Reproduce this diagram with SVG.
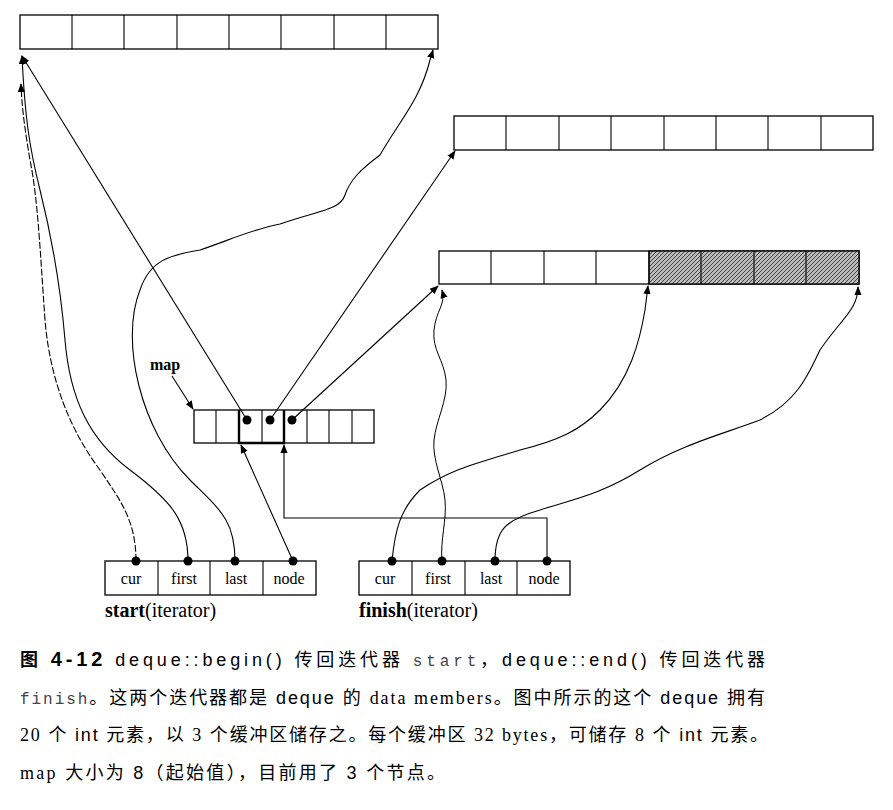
<svg xmlns="http://www.w3.org/2000/svg" width="893" height="810" viewBox="0 0 893 810">
<style>
.c{fill:#fff;stroke:#000;stroke-width:1.3}
.t{stroke:#000;stroke-width:2.4;fill:none}
.ln{fill:none;stroke:#000;stroke-width:1.1}
.lb{font-family:"Liberation Serif",serif;font-size:16px}
.cap{font-family:"Liberation Sans","Noto Sans CJK SC",sans-serif;font-size:18px}
.mono{font-family:"Liberation Mono",monospace}
</style>
<defs>
<marker id="a" viewBox="0 0 10 10" refX="9" refY="5" markerWidth="9" markerHeight="9" orient="auto" markerUnits="userSpaceOnUse"><path d="M0,1 L10,5 L0,9 Z"/></marker>
<pattern id="h" width="4" height="4" patternUnits="userSpaceOnUse"><rect width="4" height="4" fill="#bbb"/><path d="M0,4 L4,0" stroke="#333" stroke-width="0.9"/></pattern>
</defs>
<g id="buffer1">
<rect class="c" x="20" y="15" width="418" height="34"/>
<path class="ln" d="M72,15V49M124,15V49M177,15V49M229,15V49M281,15V49M334,15V49M386,15V49"/>
</g>
<g id="buffer2">
<rect class="c" x="454" y="116" width="419" height="34"/>
<path class="ln" d="M506,116V150M559,116V150M611,116V150M664,116V150M716,116V150M768,116V150M821,116V150"/>
</g>
<g id="buffer3">
<rect class="c" x="439" y="251" width="420" height="33"/>
<rect x="649" y="251" width="210" height="33" fill="url(#h)" stroke="#000" stroke-width="1.3"/>
<path class="ln" d="M491,251V284M544,251V284M596,251V284M649,251V284M701,251V284M754,251V284M806,251V284"/>
</g>
<g id="map">
<text x="150" y="370" class="lb" font-weight="bold" font-size="18">map</text>
<rect class="c" x="194" y="410" width="180" height="33"/>
<path class="ln" d="M216,410V443M239,410V443M262,410V443M284,410V443M307,410V443M329,410V443M352,410V443"/>
<path class="t" d="M239,410V443H284V410" stroke-width="2"/>
<circle cx="247" cy="420" r="4.5"/><circle cx="270" cy="420" r="4.5"/><circle cx="292" cy="420" r="4.5"/>
</g>
<g id="start">
<rect class="c" x="105" y="561" width="211" height="34"/>
<path class="ln" d="M158,561V595M210,561V595M263,561V595"/>
<g class="lb" text-anchor="middle"><text x="131" y="584">cur</text><text x="184" y="584">first</text><text x="236" y="584">last</text><text x="289" y="584">node</text></g>
<circle cx="136" cy="561" r="4.5"/><circle cx="188" cy="561" r="4.5"/><circle cx="235" cy="561" r="4.5"/><circle cx="293" cy="561" r="4.5"/>
<text x="105" y="617" class="lb" style="font-size:20px"><tspan font-weight="bold">start</tspan>(iterator)</text>
</g>
<g id="finish">
<rect class="c" x="359" y="561" width="211" height="34"/>
<path class="ln" d="M412,561V595M465,561V595M517,561V595"/>
<g class="lb" text-anchor="middle"><text x="385" y="584">cur</text><text x="438" y="584">first</text><text x="491" y="584">last</text><text x="544" y="584">node</text></g>
<circle cx="392" cy="561" r="4.5"/><circle cx="442" cy="561" r="4.5"/><circle cx="495" cy="561" r="4.5"/><circle cx="547" cy="561" r="4.5"/>
<text x="359" y="617" class="lb" style="font-size:20px"><tspan font-weight="bold">finish</tspan>(iterator)</text>
</g>
<g id="connectors" class="ln" marker-end="url(#a)">
<path d="M172,376 L193,409"/>
<path d="M136,561 C136,520 120,500 100,470 C70,430 50,380 45,320 C40,250 38,200 30,160 C25,130 22,110 21,84" stroke-dasharray="7,2"/>
<path d="M188,561 C188,520 170,500 130,470 C90,440 70,400 65,340 C60,280 50,230 40,190 C30,150 25,120 22,56"/>
<path d="M247,420 L22,56"/>
<path d="M235,561 C235,520 220,510 190,480 C140,430 120,340 140,290 C150,260 170,255 200,250 C230,240 250,230 280,224 C320,210 340,210 345,195 C350,180 360,170 380,155 C400,120 420,100 430,60 L433,50"/>
<path d="M270,420 L455,151"/>
<path d="M292,420 L438,286"/>
<path d="M293,561 L241,445"/>
<path d="M547,561 V518 H284 V445"/>
<path d="M392,561 C395,530 400,510 420,490 C450,470 470,465 520,450 C560,440 580,430 600,410 C630,380 640,340 645,310 L648,286"/>
<path d="M442,561 C440,540 447,520 445,500 C443,480 432,460 434,440 C436,420 448,400 446,380 C444,360 432,350 434,330 C436,310 446,305 442,290" stroke-width="1"/>
<path d="M495,561 C495,530 505,520 540,510 C570,500 600,495 640,470 C680,445 720,435 760,420 C800,400 810,370 820,350 C840,320 858,310 858,287"/>
</g>
<g id="caption" class="cap">
<text x="20" y="666" textLength="745" lengthAdjust="spacing"><tspan font-weight="bold">图 </tspan><tspan font-weight="bold" font-size="20">4-12</tspan>   deque::begin() 传回迭代器 <tspan class="mono" font-size="16" fill="#444">start</tspan>，deque::end() 传回迭代器</text>
<text x="20" y="704" textLength="745" lengthAdjust="spacing"><tspan class="mono" font-size="16" fill="#444">finish</tspan>。这两个迭代器都是 deque 的 <tspan font-family="Liberation Serif">data members</tspan>。图中所示的这个 deque 拥有</text>
<text x="20" y="741" textLength="748" lengthAdjust="spacing"><tspan font-family="Liberation Serif">20</tspan> 个 int 元素，以 <tspan font-family="Liberation Serif">3</tspan> 个缓冲区储存之。每个缓冲区 <tspan font-family="Liberation Serif">32 bytes</tspan>，可储存 <tspan font-family="Liberation Serif">8</tspan> 个 int 元素。</text>
<text x="20" y="779" textLength="425" lengthAdjust="spacing"><tspan font-family="Liberation Serif">map</tspan> 大小为 8（起始值），目前用了 3 个节点。</text>
</g>
</svg>
